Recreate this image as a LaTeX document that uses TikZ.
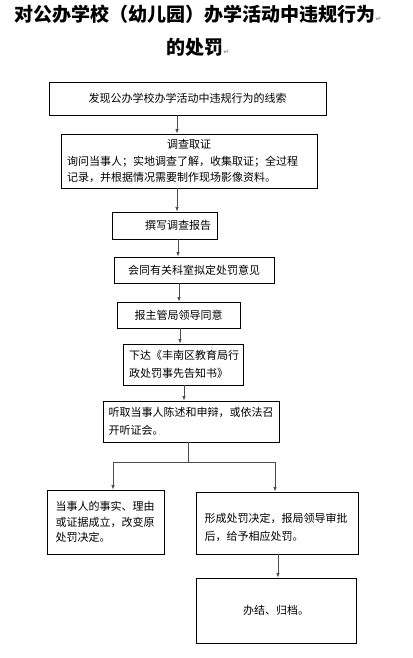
\documentclass[tikz,border=0pt]{standalone}
\usepackage{fontspec}
\newfontfamily\cjk{Noto Sans CJK SC}
\newfontfamily\markfont{DejaVu Sans}
\usetikzlibrary{arrows.meta}
\newcommand\enterglyph{{\markfont\fontsize{7}{7}\selectfont\textcolor{black!45}{↵}}}

\begin{document}
\begin{tikzpicture}[
  x=1pt, y=-1pt,
  procbox/.style={draw=black, line width=0.8pt, inner sep=0pt,
    font=\cjk\fontsize{11}{16.5}\selectfont},
  flow/.style={draw=black!70, line width=0.8pt, -{Latex[length=4.5pt,width=3.5pt]}},
  joint/.style={draw=black!70, line width=0.8pt},
  titlelbl/.style={font=\cjk\bfseries\fontsize{19}{33}\selectfont, align=center, inner sep=0pt}
]
\useasboundingbox (0,0) rectangle (412,658);

% title
\node[titlelbl] (title) at (198,31) {对公办学校（幼儿园）办学活动中违规行为\enterglyph\\的处罚\enterglyph};

% main chain
\node[procbox, minimum width=277pt, minimum height=33pt] (clue) at (187.5,98.5)
  {发现公办学校办学活动中违规行为的线索};
\node[procbox, minimum width=256pt, minimum height=54pt, text width=244pt, align=left] (probe) at (189,161)
  {\hfil 调查取证\hfil\\询问当事人；实地调查了解，收集取证；全过程\\记录，并根据情况需要制作现场影像资料。};
\node[procbox, minimum width=105pt, minimum height=27pt, text width=93pt, align=left] (report) at (164.5,225.5)
  {\hspace*{27pt}撰写调查报告};
\node[procbox, minimum width=160pt, minimum height=26pt] (consult) at (194,270)
  {会同有关科室拟定处罚意见};
\node[procbox, minimum width=123pt, minimum height=26pt] (approve) at (178.5,315)
  {报主管局领导同意};
\node[procbox, minimum width=120pt, minimum height=41pt, text width=108pt, align=left,
  font=\cjk\fontsize{11}{18}\selectfont] (notice) at (183,364.5)
  {下达《丰南区教育局行\\政处罚事先告知书》};
\node[procbox, minimum width=176pt, minimum height=41pt, text width=165pt, align=left,
  font=\cjk\fontsize{11}{18}\selectfont] (hearing) at (191,421.5)
  {听取当事人陈述和申辩，或依法召\\开听证会。};

% two outcomes
\node[procbox, minimum width=117pt, minimum height=64pt, text width=100pt, align=left,
  font=\cjk\fontsize{11}{15.5}\selectfont] (amend) at (105.5,522)
  {当事人的事实、理由\\或证据成立，改变原\\处罚决定。};
\node[procbox, minimum width=162pt, minimum height=62pt, text width=145pt, align=left,
  font=\cjk\fontsize{11}{18}\selectfont] (decide) at (277,523)
  {\mbox{}\\形成处罚决定，报局领导审批\\后，给予相应处罚。};
\node[procbox, minimum width=160pt, minimum height=65pt] (archive) at (276,610.5)
  {办结、归档。};

% arrows of the chain
\foreach \a/\b/\x in {clue/probe/177, probe/report/177, report/consult/178,
                      consult/approve/179, approve/notice/180, notice/hearing/184}{
  \coordinate (t) at (\x,0);
  \draw[flow] (\a.south -| t) -- (\b.north -| t);
}

% fork below the hearing
\coordinate (fork) at (188,462);
\coordinate (forkL) at (113,462);
\coordinate (forkR) at (275,462);
\draw[joint] (hearing.south -| fork) -- (fork);
\draw[joint] (forkL) -- (forkR);
\draw[flow] (forkL) -- (amend.north -| forkL);
\draw[flow] (forkR) -- (decide.north -| forkR);

\coordinate (t) at (278,0);
\draw[flow] (decide.south -| t) -- (archive.north -| t);

\end{tikzpicture}
\end{document}
